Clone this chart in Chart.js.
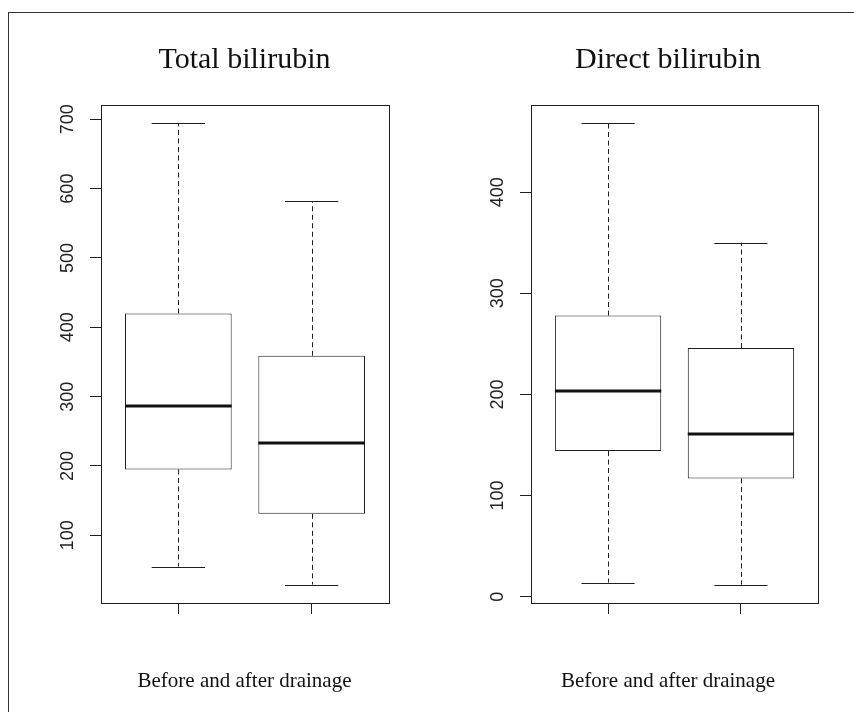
<!DOCTYPE html>
<html><head><meta charset="utf-8">
<script src="https://cdn.jsdelivr.net/npm/chart.js@4"></script>
<style>
html,body{margin:0;padding:0;background:#fff;}
#page{position:relative;width:854px;height:712px;overflow:hidden;background:#fff;}
#frame{position:absolute;left:8px;top:12px;width:846px;height:700px;border-top:1px solid #333;border-left:1px solid #333;}
#c1{position:absolute;left:0;top:0;}
#c2{position:absolute;left:480px;top:0;}
</style></head><body>
<div id="page"><div id="frame"></div>
<canvas id="c1" width="480" height="712"></canvas>
<canvas id="c2" width="374" height="712"></canvas>
</div>
<script>
// ---- data ----
const groups = ['Before drainage', 'After drainage'];
const groupPositions = [1, 2];

const totalMin    = [55, 29];
const totalQ1     = [195, 131];
const totalMedian = [287, 233];
const totalQ3     = [420, 359];
const totalMax    = [694, 582];
const totalTicks  = [100, 200, 300, 400, 500, 600, 700];

const directMin    = [14, 12];
const directQ1     = [144, 117];
const directMedian = [203, 161];
const directQ3     = [278, 246];
const directMax    = [468, 350];
const directTicks  = [0, 100, 200, 300, 400];

const xTitle = 'Before and after drainage';

// ---- helpers ----
const LINE = '#1e1e1e';
const SERIF = "'Liberation Serif', 'Times New Roman', serif";
const SANS = "'Liberation Sans', Arial, sans-serif";

function rRange(lo, hi) { const e = (hi - lo) * 0.04; return [lo - e, hi + e]; }

const boxPlugin = {
  id: 'boxExtras',
  afterDatasetsDraw(chart) {
    const st = chart.options.plugins.boxExtras;
    const y = chart.scales.y;
    const ctx = chart.ctx;
    const meta = chart.getDatasetMeta(0);
    ctx.save();
    meta.data.forEach((el, i) => {
      const cx = el.x, hw = el.width / 2, sw = el.width / 4;
      const pMax = y.getPixelForValue(st.max[i]);
      const pMin = y.getPixelForValue(st.min[i]);
      const pQ1 = y.getPixelForValue(st.q1[i]);
      const pQ3 = y.getPixelForValue(st.q3[i]);
      const pMed = y.getPixelForValue(st.median[i]);
      ctx.strokeStyle = LINE;
      ctx.lineWidth = 1;
      ctx.setLineDash([5, 3.5]);
      ctx.beginPath();
      ctx.moveTo(Math.round(cx) + 0.5, pQ3); ctx.lineTo(Math.round(cx) + 0.5, pMax);
      ctx.moveTo(Math.round(cx) + 0.5, pQ1); ctx.lineTo(Math.round(cx) + 0.5, pMin);
      ctx.stroke();
      ctx.setLineDash([]);
      ctx.beginPath();
      ctx.moveTo(cx - sw, Math.round(pMax) + 0.5); ctx.lineTo(cx + sw, Math.round(pMax) + 0.5);
      ctx.moveTo(cx - sw, Math.round(pMin) + 0.5); ctx.lineTo(cx + sw, Math.round(pMin) + 0.5);
      ctx.stroke();
      ctx.strokeStyle = '#111';
      ctx.lineWidth = 3;
      ctx.beginPath();
      ctx.moveTo(cx - hw, Math.round(pMed)); ctx.lineTo(cx + hw, Math.round(pMed));
      ctx.stroke();
    });
    const a = chart.chartArea;
    ctx.strokeStyle = LINE;
    ctx.lineWidth = 1;
    ctx.strokeRect(Math.round(a.left) + 0.5, Math.round(a.top) + 0.5, Math.round(a.right - a.left), Math.round(a.bottom - a.top));
    ctx.restore();
  }
};

function makePanel(id, title, mins, q1s, meds, q3s, maxs, ticks, pad, yWidth, rightWidth) {
  const [lo, hi] = rRange(Math.min(...mins), Math.max(...maxs));
  return new Chart(document.getElementById(id), {
    type: 'bar',
    data: {
      labels: groups,
      datasets: [{
        label: title,
        data: groupPositions.map((p, i) => ({ x: p, y: [q1s[i], q3s[i]] })),
        backgroundColor: '#fff',
        borderColor: LINE,
        borderWidth: 1,
        borderSkipped: false,
        barPercentage: 1,
        categoryPercentage: 0.8,
        xAxisID: 'x',
        yAxisID: 'y'
      }]
    },
    options: {
      responsive: false,
      animation: false,
      events: [],
      layout: { padding: pad },
      plugins: {
        legend: { display: false },
        tooltip: { enabled: false },
        title: {
          display: true, text: title, color: '#111',
          font: { family: SERIF, size: 30, weight: 'normal' },
          padding: { top: 42, bottom: 27 }
        },
        subtitle: {
          display: true, text: xTitle, position: 'bottom', color: '#111',
          font: { family: SERIF, size: 21, weight: 'normal' },
          padding: { top: 46, bottom: 17.8 }
        },
        boxExtras: { min: mins, q1: q1s, median: meds, q3: q3s, max: maxs }
      },
      scales: {
        x: {
          type: 'linear', min: 0.42, max: 2.58, offset: false,
          afterBuildTicks: s => { s.ticks = groupPositions.map(v => ({ value: v })); },
          afterFit: s => { s.height = 20; },
          ticks: { display: false },
          border: { display: false },
          grid: { drawOnChartArea: false, offset: false, color: LINE, tickLength: 11, tickWidth: 1 }
        },
        y: {
          type: 'linear', position: 'left', min: lo, max: hi,
          afterBuildTicks: s => { s.ticks = ticks.map(v => ({ value: v })); },
          afterFit: s => { s.width = yWidth; },
          ticks: {
            minRotation: 90, maxRotation: 90, crossAlign: 'center', padding: 7,
            color: '#222', font: { family: SANS, size: 18 },
            autoSkip: false,
            callback: v => String(v)
          },
          border: { display: false },
          grid: { drawOnChartArea: false, color: LINE, tickLength: 11, tickWidth: 1 }
        },
        spacer: {
          type: 'linear', position: 'right', min: lo, max: hi,
          afterFit: s => { s.width = rightWidth; },
          ticks: { display: false },
          border: { display: false },
          grid: { display: false }
        }
      }
    },
    plugins: [boxPlugin]
  });
}

makePanel('c1', 'Total bilirubin', totalMin, totalQ1, totalMedian, totalQ3, totalMax, totalTicks,
  { left: 41, right: 32, top: 0, bottom: 0 }, 60, 59);
makePanel('c2', 'Direct bilirubin', directMin, directQ1, directMedian, directQ3, directMax, directTicks,
  { left: 6, right: 4, top: 0, bottom: 0 }, 45, 32);
</script>
</body></html>
